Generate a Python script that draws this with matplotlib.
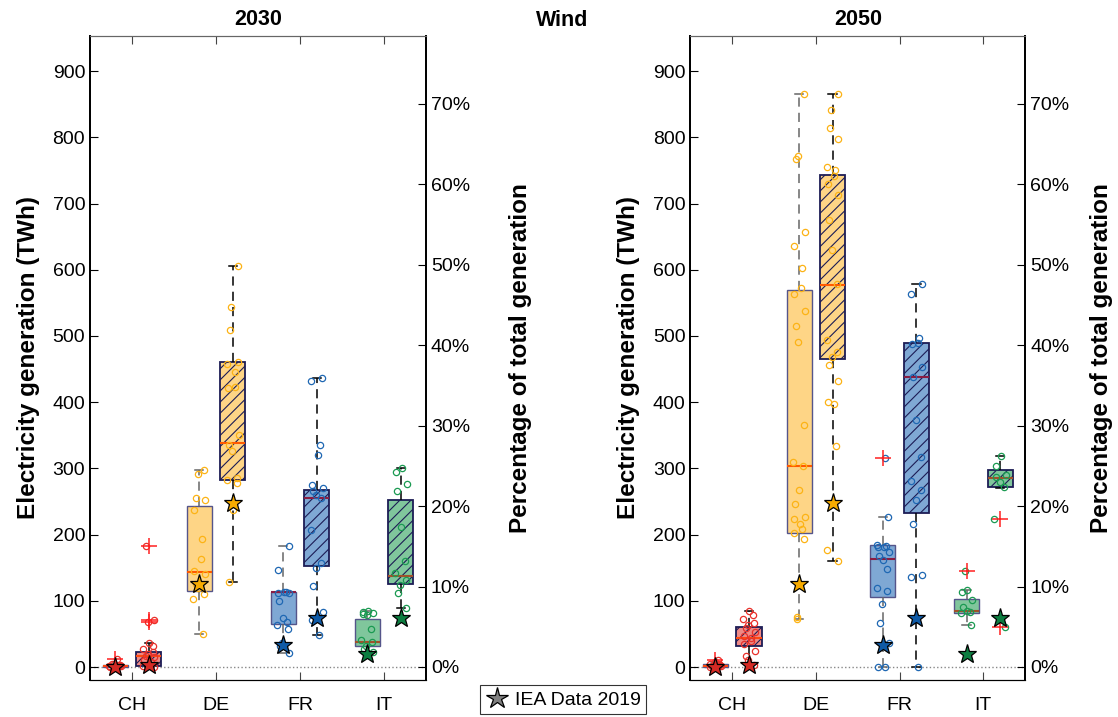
import numpy as np
import matplotlib.pyplot as plt
from matplotlib.lines import Line2D

plt.rcParams['font.family'] = ['Liberation Sans', 'DejaVu Sans']
plt.rcParams['hatch.color'] = '#333333'
plt.rcParams['hatch.linewidth'] = 0.8

countries = ['CH', 'DE', 'FR', 'IT']
pt_colors = ['#e8312b', '#fcb316', '#1f68b3', '#1b9a52']
fill_colors = ['#ee8a86', '#fed586', '#7fa8d4', '#80c69c']
star_colors = ['#d42a24', '#f7ab00', '#0f5aa6', '#0c7d40']
med_colors = ['#ff4a10', '#ff5a00', '#8a1d43', '#a1522a']

# box stats per country: q1, median, q3, whisker low, whisker high
twh30_box = [[0.5, 1.5, 3, 0, 5], [115, 144, 243, 50, 297],
             [65, 113, 114, 21, 183], [32, 38, 72, 23, 84]]
twh30_pts = [[0, 1, 2, 3, 4, 5, 1, 0.5],
             [297, 292, 256, 252, 237, 193, 163, 145, 140, 125, 120, 110, 103, 50],
             [183, 146, 114, 113, 112, 112, 99, 74, 68, 63, 57, 37, 31, 21],
             [84, 83, 82, 80, 78, 58, 41, 38, 32, 27, 23]]
twh30_out = [[12], [], [], []]
twh30_star = [0.5, 126, 34, 20]

pct30_box = [[0.16, 1.4, 1.9, 0, 3.0], [23.3, 27.9, 37.9, 10.6, 49.8],
             [12.5, 21.0, 22.0, 4.0, 35.9], [10.3, 11.3, 20.7, 7.3, 24.7]]
pct30_pts = [[3.0, 2.6, 2.2, 1.9, 1.6, 1.4, 1.2, 0.9, 0.6, 0.3, 0.1, 0],
             [49.8, 44.8, 41.9, 37.9, 37.7, 36.7, 34.8, 34.7, 28.8, 27.6, 26.8,
              23.5, 23.3, 22.9, 19.5, 10.6],
             [35.9, 35.6, 27.6, 26.4, 22.6, 22.2, 21.9, 21.4, 21.0, 17.0, 12.9,
              12.3, 10.1, 6.8, 5.8, 4.0],
             [24.7, 24.3, 22.8, 21.9, 17.4, 13.2, 11.7, 10.8, 10.2, 9.2, 7.3]]
pct30_out = [[15.1, 5.6, 5.8], [], [], []]
pct30_star = [0.2, 20.4, 6.05, 6.1]

twh50_box = [[0.5, 2, 4, 0, 7], [203, 303, 569, 73, 865],
             [105, 163, 184, 0, 226], [81, 85, 103, 63, 116]]
twh50_pts = [[7, 5, 4, 3, 2, 1.5, 1, 0.5, 0],
             [865, 772, 767, 657, 636, 603, 573, 563, 538, 515, 491, 366, 310,
              303, 267, 246, 227, 223, 216, 208, 202, 194, 75, 72],
             [226, 184, 183, 182, 181, 174, 168, 162, 148, 119, 115, 95, 67, 36, 0, 0],
             [116, 114, 101, 91, 85, 83, 81, 63]]
twh50_out = [[10], [], [316], [145]]
twh50_star = [0.5, 126, 34, 20]

pct50_box = [[2.65, 3.65, 5.0, 0.3, 7.0], [38.3, 47.5, 61.2, 13.2, 71.2],
             [19.2, 36.1, 40.3, 0, 47.6], [22.4, 23.5, 24.5, 22.3, 26.2]]
pct50_pts = [[7.0, 6.5, 6.0, 5.5, 5.2, 4.8, 4.3, 3.8, 3.6, 3.2, 2.8, 2.0, 1.4, 0.9, 0.3],
             [71.2, 69.2, 67.0, 65.7, 62.2, 61.8, 61.0, 60.0, 58.7, 55.6, 51.9,
              47.6, 40.7, 39.2, 38.5, 37.5, 35.5, 32.9, 32.7, 27.5, 14.5, 13.2],
             [47.6, 46.4, 40.9, 40.3, 40.2, 37.3, 36.1, 30.7, 26.1, 23.1, 22.0,
              20.7, 17.8, 11.4, 11.2, 0],
             [26.2, 25.0, 23.9, 23.6, 23.0, 22.4]]
pct50_out = [[], [], [], [18.4, 5.0]]
pct50_star = [0.2, 20.4, 6.05, 6.1]

TWH_LIM = (-19.6, 953)
PCT_LIM = (-1.62, 78.45)


def draw_boxes(ax, boxes, pts, outs, stars, shift, hatched):
    for i, c in enumerate(countries):
        q1, med, q3, lo, hi = boxes[i]
        pos = i + 1 + shift
        st = dict(q1=q1, med=med, q3=q3, whislo=lo, whishi=hi, fliers=[])
        wcol = 'black' if hatched else '#666666'
        bp = ax.bxp([st], positions=[pos], widths=0.3, capwidths=0.1,
                    patch_artist=True, showfliers=False,
                    boxprops=dict(facecolor=fill_colors[i],
                                  edgecolor='#1c1c55' if hatched else '#55558a',
                                  linewidth=1.3 if hatched else 1.0),
                    whiskerprops=dict(color=wcol, linestyle=(0, (6, 4)), linewidth=1.1),
                    capprops=dict(color=wcol, linewidth=1.1),
                    medianprops=dict(color=med_colors[i], linewidth=1.5))
        if hatched:
            bp['boxes'][0].set_hatch('///')
        # jittered points
        p = np.array(pts[i] + outs[i], dtype=float)
        k = np.arange(len(p))
        xs = pos + 0.07 * np.sin(k * 2.4 + i)
        ax.plot(xs, p, 'o', mfc='none', mec=pt_colors[i], ms=4.5, mew=0.9, zorder=3)
        if outs[i]:
            ax.plot([pos] * len(outs[i]), outs[i], '+', color='#ff2020', ms=11,
                    mew=1.1, zorder=4)
        ax.plot(pos, stars[i], '*', ms=14, mfc=star_colors[i], mec='black',
                mew=0.9, zorder=5)


def draw_year(ax, title, twh_box, twh_pts, twh_out, twh_star,
              pct_box, pct_pts, pct_out, pct_star, rpad):
    ax2 = ax.twinx()
    ax.axhline(0, color='#888888', ls=':', lw=1, zorder=1)
    draw_boxes(ax, twh_box, twh_pts, twh_out, twh_star, -0.2, False)
    draw_boxes(ax2, pct_box, pct_pts, pct_out, pct_star, 0.2, True)

    ax.set_xlim(0.5, 4.5)
    ax.set_ylim(*TWH_LIM)
    ax2.set_ylim(*PCT_LIM)
    ax.set_xticks([1, 2, 3, 4])
    ax.set_xticklabels(countries)
    ax.set_yticks(range(0, 901, 100))
    ax2.set_yticks(range(0, 71, 10))
    ax2.set_yticklabels([f'{v}%' for v in range(0, 71, 10)])
    ax.tick_params(axis='both', direction='in', length=6, labelsize=14,
                   top=True, right=False)
    ax.tick_params(axis='x', pad=12, colors='#444444', labelcolor='black')
    ax2.tick_params(axis='y', direction='in', length=6, labelsize=14)
    ax.set_ylabel('Electricity generation (TWh)', fontsize=17.5,
                  fontweight='bold', labelpad=9)
    ax2.set_ylabel('Percentage of total generation', fontsize=17.5,
                   fontweight='bold', labelpad=rpad)
    ax.set_title(title, fontsize=15.5, fontweight='bold', pad=8)
    for a in (ax, ax2):
        a.spines['top'].set_color('#666666')
        a.spines['left'].set_linewidth(1.3)
        a.spines['right'].set_linewidth(1.3)
    return ax2


fig = plt.figure(figsize=(11.18, 7.17), dpi=100)
ax_l = fig.add_axes([0.0805, 0.0516, 0.3005, 0.8982])
ax_r = fig.add_axes([0.6175, 0.0516, 0.2995, 0.8982])

draw_year(ax_l, '2030', twh30_box, twh30_pts, twh30_out, twh30_star,
          pct30_box, pct30_pts, pct30_out, pct30_star, 28)
draw_year(ax_r, '2050', twh50_box, twh50_pts, twh50_out, twh50_star,
          pct50_box, pct50_pts, pct50_out, pct50_star, 15)

fig.text(0.503, 0.957, 'Wind', ha='center', va='bottom', fontsize=15.5,
         fontweight='bold')

handle = Line2D([], [], marker='*', ls='none', ms=16, mfc='#808080', mec='black',
                mew=0.9)
leg = fig.legend([handle], ['IEA Data 2019'], loc='lower center',
                 bbox_to_anchor=(0.5036, -0.01), fontsize=14, frameon=True,
                 fancybox=False, handletextpad=0.3, borderpad=0.3,
                 handlelength=1.2)
leg.get_frame().set_edgecolor('black')
leg.get_frame().set_linewidth(0.8)

fig.savefig('out.png', dpi=100)
